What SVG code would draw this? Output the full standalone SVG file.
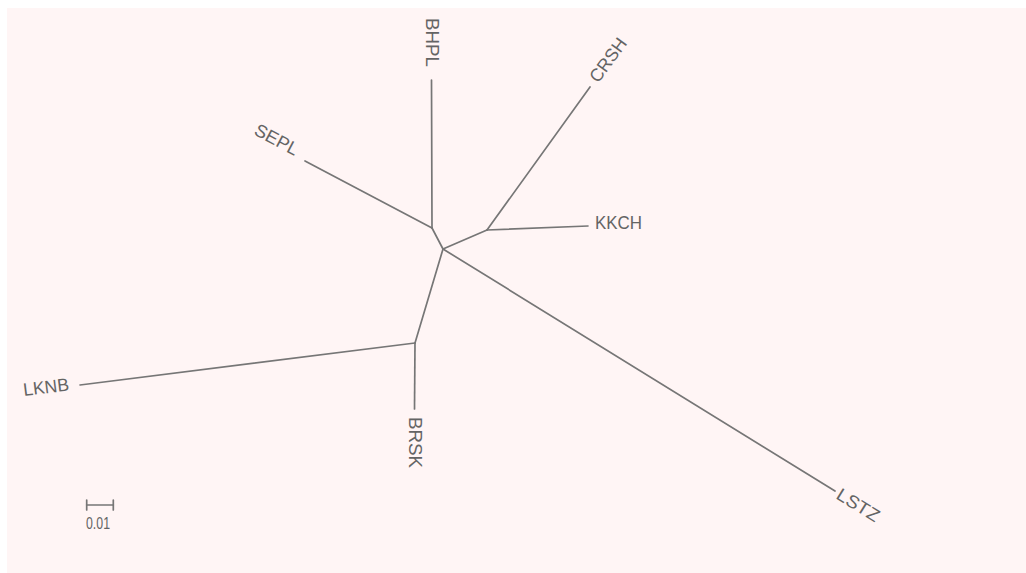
<svg xmlns="http://www.w3.org/2000/svg" width="1026" height="573" viewBox="0 0 1026 573">
<style>
.bg{fill:#fff5f5}
.e{stroke:#767676;stroke-width:1.7;fill:none;stroke-linecap:round}
.t{font-family:"Liberation Sans",Arial,sans-serif;font-size:18px;fill:#646464}
.s{font-family:"Liberation Sans",Arial,sans-serif;font-size:16.5px;fill:#646464}
</style>
<rect class="bg" x="7" y="8" width="1019" height="565"/>
<g id="connectors">
<line class="e" x1="431.5" y1="80" x2="432" y2="228"/>
<line class="e" x1="305" y1="161" x2="432" y2="228"/>
<line class="e" x1="432" y1="228" x2="443" y2="249"/>
<line class="e" x1="443" y1="249" x2="487" y2="230"/>
<line class="e" x1="487" y1="230" x2="588" y2="226"/>
<line class="e" x1="487" y1="230" x2="590" y2="87"/>
<line class="e" x1="443" y1="249" x2="415" y2="343"/>
<line class="e" x1="415" y1="343" x2="414.5" y2="409"/>
<line class="e" x1="415" y1="343" x2="80" y2="385"/>
<line class="e" x1="443" y1="249" x2="835" y2="491"/>
</g>
<g id="BHPL"><text class="t" transform="translate(426,18) rotate(90)" textLength="49" lengthAdjust="spacingAndGlyphs">BHPL</text></g>
<g id="CRSH"><text class="t" transform="translate(593,80) rotate(-54)" dy="0.36em" textLength="50" lengthAdjust="spacingAndGlyphs">CRSH</text></g>
<g id="SEPL"><text class="t" transform="translate(253,134) rotate(27.8)" textLength="47" lengthAdjust="spacingAndGlyphs">SEPL</text></g>
<g id="KKCH"><text class="t" x="595" y="229" textLength="47" lengthAdjust="spacingAndGlyphs">KKCH</text></g>
<g id="LKNB"><text class="t" transform="translate(24,396) rotate(-7)" textLength="46" lengthAdjust="spacingAndGlyphs">LKNB</text></g>
<g id="BRSK"><text class="t" transform="translate(409,417) rotate(90)" textLength="51" lengthAdjust="spacingAndGlyphs">BRSK</text></g>
<g id="LSTZ"><text class="t" transform="translate(838.5,492.5) rotate(31.7)" dy="0.36em" textLength="47" lengthAdjust="spacingAndGlyphs">LSTZ</text></g>
<g id="scale">
<line class="e" x1="86.7" y1="505" x2="113.3" y2="505" stroke-width="1.3"/>
<line class="e" x1="86.7" y1="500" x2="86.7" y2="510" stroke-width="1.3"/>
<line class="e" x1="113.3" y1="500" x2="113.3" y2="510" stroke-width="1.3"/>
<text class="s" x="86" y="529" textLength="24" lengthAdjust="spacingAndGlyphs">0.01</text>
</g>
</svg>
